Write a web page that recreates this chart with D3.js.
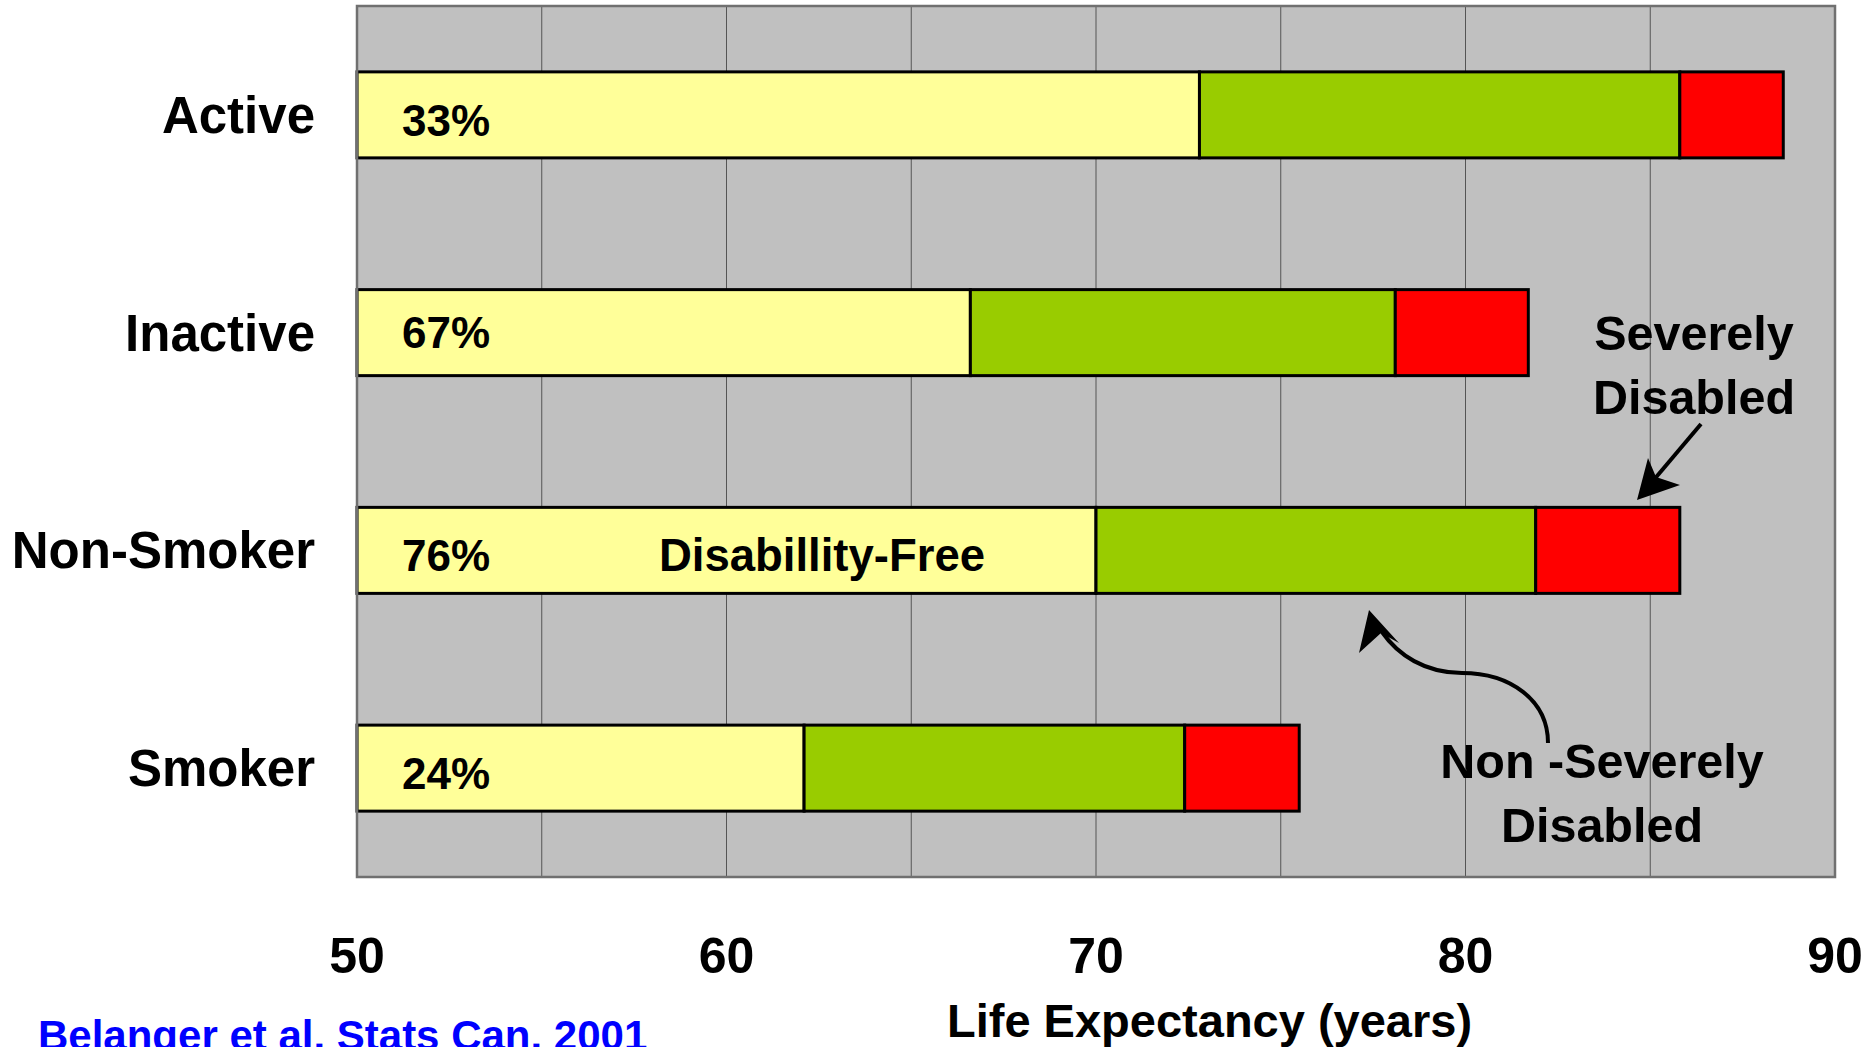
<!DOCTYPE html>
<html>
<head>
<meta charset="utf-8">
<script src="https://cdn.jsdelivr.net/npm/d3@7"></script>
<style>
  html, body { margin: 0; padding: 0; background: #ffffff; }
  svg { display: block; }
  text { font-family: "Liberation Sans", Arial, Helvetica, sans-serif; font-weight: bold; }
</style>
</head>
<body>
<svg id="chart" width="1867" height="1047"></svg>
<script>
// ---- Data ----
const categories = ["Active", "Inactive", "Non-Smoker", "Smoker"];
// age (years) at which each state ends
const disabilityFreeEnd = [72.8, 66.6, 70.0, 62.1];
const nonSevereEnd      = [85.8, 78.1, 81.9, 72.4];
const lifeExpectancy    = [88.6, 81.7, 85.8, 75.5];
const percentLabels = ["33%", "67%", "76%", "24%"];
const xTicks = [50, 60, 70, 80, 90];
const gridTicks = [55, 60, 65, 70, 75, 80, 85];
const xDomain = [50, 90];
const stateNames = ["Disability-Free", "Non-Severely Disabled", "Severely Disabled"];
const stateColors = ["#FFFF99", "#99CC00", "#FF0000"];

// ---- Layout ----
const svg = d3.select("#chart");
const W = 1867, H = 1047;
const plot = { left: 357, right: 1835, top: 6, bottom: 877 };

svg.append("rect").attr("width", W).attr("height", H).attr("fill", "#ffffff");

const x = d3.scaleLinear().domain(xDomain).range([plot.left, plot.right]);
const y = d3.scaleBand().domain(categories)
  .range([plot.top, plot.bottom])
  .paddingInner(0.605).paddingOuter(0.3025);

// plot background
svg.append("rect")
  .attr("x", plot.left).attr("y", plot.top)
  .attr("width", plot.right - plot.left).attr("height", plot.bottom - plot.top)
  .attr("fill", "#C0C0C0");

// vertical gridlines
svg.append("g").selectAll("line").data(gridTicks).join("line")
  .attr("x1", d => x(d)).attr("x2", d => x(d))
  .attr("y1", plot.top).attr("y2", plot.bottom)
  .attr("stroke", "#555555").attr("stroke-width", 1);

// stacked segments
const segments = [];
categories.forEach((c, i) => {
  const bounds = [xDomain[0], disabilityFreeEnd[i], nonSevereEnd[i], lifeExpectancy[i]];
  for (let k = 0; k < 3; k++) {
    segments.push({ cat: c, k, x0: bounds[k], x1: bounds[k + 1] });
  }
});
svg.append("g").selectAll("rect").data(segments).join("rect")
  .attr("x", d => x(d.x0))
  .attr("y", d => y(d.cat))
  .attr("width", d => x(d.x1) - x(d.x0))
  .attr("height", y.bandwidth())
  .attr("fill", d => stateColors[d.k])
  .attr("stroke", "#000000")
  .attr("stroke-width", 3);

// plot border
svg.append("rect")
  .attr("x", plot.left).attr("y", plot.top)
  .attr("width", plot.right - plot.left).attr("height", plot.bottom - plot.top)
  .attr("fill", "none").attr("stroke", "#707070").attr("stroke-width", 2.5);

// category labels
svg.append("g").selectAll("text").data(categories).join("text")
  .attr("x", 315)
  .attr("y", d => y(d) + y.bandwidth() / 2 + 18)
  .attr("text-anchor", "end")
  .attr("font-size", 51)
  .attr("fill", "#000")
  .text(d => d);

// percentage labels
svg.append("g").selectAll("text").data(categories).join("text")
  .attr("x", x(xDomain[0]) + 45)
  .attr("y", (d, i) => y(d) + y.bandwidth() / 2 + (i === 1 ? 15 : 21))
  .attr("font-size", 44)
  .attr("fill", "#000")
  .text((d, i) => percentLabels[i]);

// x tick labels
svg.append("g").selectAll("text").data(xTicks).join("text")
  .attr("x", d => x(d))
  .attr("y", 973)
  .attr("text-anchor", "middle")
  .attr("font-size", 50)
  .attr("fill", "#000")
  .text(d => d);

// axis title
svg.append("text")
  .attr("x", 947).attr("y", 1037)
  .attr("font-size", 47)
  .attr("fill", "#000")
  .text("Life Expectancy (years)");

// source
svg.append("text")
  .attr("x", 38).attr("y", 1050)
  .attr("font-size", 42)
  .attr("fill", "#0000FF")
  .text("Belanger et al. Stats Can. 2001");

// in-bar label
const nsIdx = 2;
svg.append("text")
  .attr("x", 822)
  .attr("y", y(categories[nsIdx]) + y.bandwidth() / 2 + 21)
  .attr("text-anchor", "middle")
  .attr("font-size", 45.5)
  .attr("fill", "#000")
  .text("Disabillity-Free");

// Severely Disabled annotation
const sev = svg.append("g");
sev.append("text").attr("x", 1694).attr("y", 350).attr("text-anchor", "middle")
  .attr("font-size", 48.5).attr("fill", "#000").text("Severely");
sev.append("text").attr("x", 1694).attr("y", 414).attr("text-anchor", "middle")
  .attr("font-size", 48.5).attr("fill", "#000").text("Disabled");
sev.append("line").attr("x1", 1701).attr("y1", 424).attr("x2", 1652).attr("y2", 482)
  .attr("stroke", "#000").attr("stroke-width", 4);
sev.append("path").attr("d", "M1637,500 L1648,458 L1656,477 L1680,485 Z").attr("fill", "#000");

// Non-Severely Disabled annotation
const nsev = svg.append("g");
nsev.append("text").attr("x", 1602).attr("y", 778).attr("text-anchor", "middle")
  .attr("font-size", 48.5).attr("fill", "#000").text("Non -Severely");
nsev.append("text").attr("x", 1602).attr("y", 842).attr("text-anchor", "middle")
  .attr("font-size", 48.5).attr("fill", "#000").text("Disabled");
nsev.append("path")
  .attr("d", "M1548,743 C1548,700 1510,673 1462,673 C1425,673 1398,655 1382,632")
  .attr("fill", "none").attr("stroke", "#000").attr("stroke-width", 4);
nsev.append("path").attr("d", "M1369,610 L1399,643 L1381,633 L1359,653 Z").attr("fill", "#000");
</script>
</body>
</html>
